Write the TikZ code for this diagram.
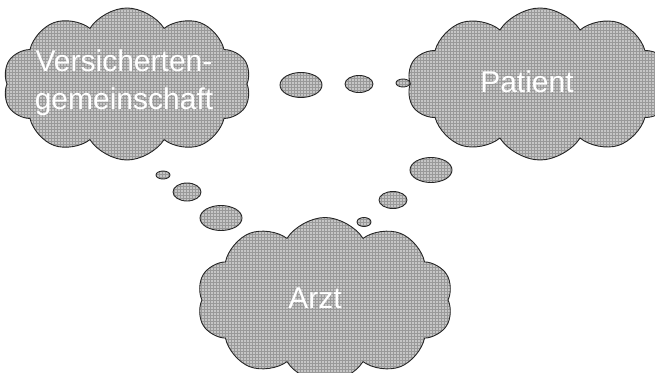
\documentclass[tikz,border=0pt]{standalone}
\usepackage{fontspec}
\setmainfont{Liberation Sans}
\usetikzlibrary{shapes.symbols,shapes.geometric,patterns}
\begin{document}
\begin{tikzpicture}[x=1pt,y=-1pt,
  hatchfill/.style={draw=black!85, line width=0.9pt,
    preaction={fill=gray!45}, pattern=grid, pattern color=gray!80},
  thought/.style={hatchfill, cloud, cloud puffs=10, cloud puff arc=115,
    cloud ignores aspect, inner sep=0pt},
  bubble/.style={hatchfill, ellipse, inner sep=0pt},
  label/.style={text=white, font=\fontsize{30}{38}\selectfont, align=center}]
\clip (0,0) rectangle (655,372);
% clouds
\node[thought, minimum width=248pt, minimum height=152pt] (cV) at (127,84) {};
\node[thought, minimum width=266pt, minimum height=152pt] (cP) at (540,84) {};
\node[thought, minimum width=256pt, minimum height=165pt] (cA) at (325,300) {};
% texts
\node[label] (tV) at (124,83) {Versicherten-\\gemeinschaft};
\node[label] (tP) at (527,82) {Patient};
\node[label] (tA) at (315,298) {Arzt};
% bubbles between left and right
\node[bubble, minimum width=42pt, minimum height=25pt] (b1) at (301,85) {};
\node[bubble, minimum width=28pt, minimum height=17pt] (b2) at (359,84) {};
\node[bubble, minimum width=14pt, minimum height=8pt] (b3) at (403,83) {};
% bubbles between left and Arzt
\node[bubble, minimum width=14pt, minimum height=8pt] (b4) at (163,175) {};
\node[bubble, minimum width=28pt, minimum height=18pt] (b5) at (187,192) {};
\node[bubble, minimum width=42pt, minimum height=25pt] (b6) at (221,218) {};
% bubbles between right and Arzt
\node[bubble, minimum width=42pt, minimum height=25pt] (b7) at (431,170) {};
\node[bubble, minimum width=28pt, minimum height=17pt] (b8) at (393,200) {};
\node[bubble, minimum width=14pt, minimum height=9pt] (b9) at (364,222) {};
\end{tikzpicture}
\end{document}
